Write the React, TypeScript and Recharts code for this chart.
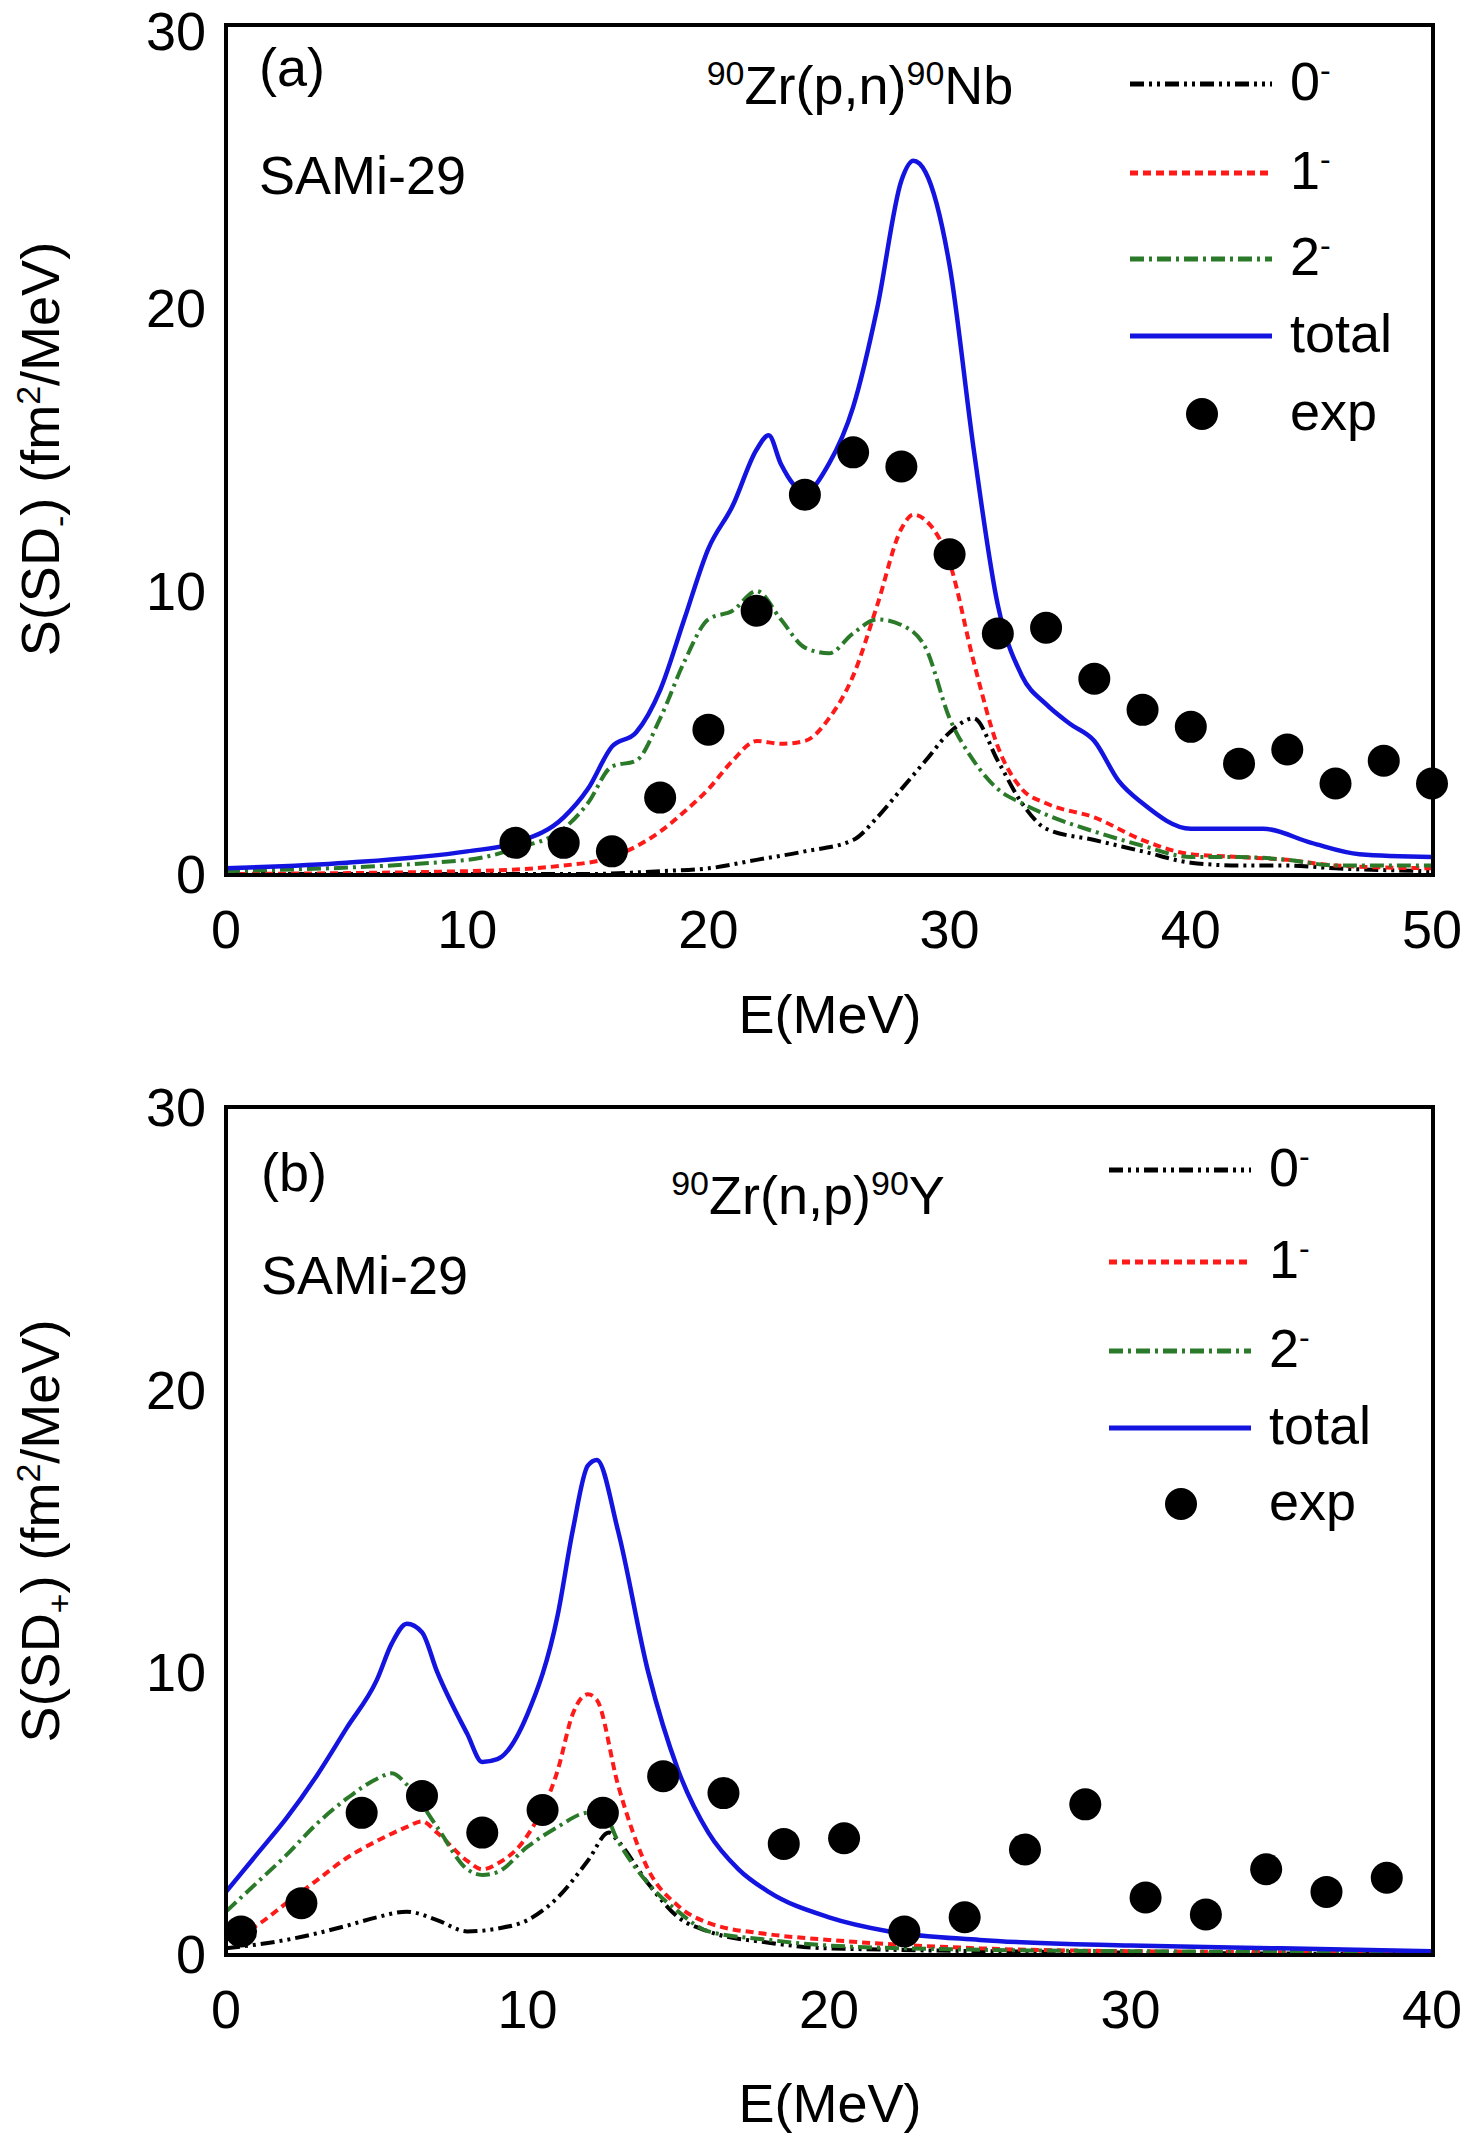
import { ComposedChart, Line, Scatter, XAxis, YAxis } from 'recharts';

// panel (a) 90Zr(p,n)90Nb
const aTotal = [[0,0.2],[5,0.4],[10,0.8],[12,1.1],[14,2],[15,3],[16,4.5],[17,5],[18,6.5],[19,9],[20,11.5],[21,13],[22,15],[22.5,15.5],[23,14.5],[24,13.5],[25,14.5],[26,16.5],[27,20],[28,24.5],[28.5,25.2],[29,24.8],[30,21.5],[31,15],[32,9.5],[33,7],[34,6],[35,5.3],[36,4.7],[37,3.3],[38,2.5],[40,1.6],[42,1.6],[43,1.6],[45,1.1],[47,0.7],[50,0.6]];
const a2m = [[0,0.1],[10,0.5],[12,0.9],[14,1.6],[15,2.5],[16,3.8],[17,4],[18,5.5],[19,7.5],[20,9],[21,9.3],[22,10],[23,9],[24,8],[25,7.8],[26,8.5],[27,9],[28,8.8],[29,8],[30,5.5],[31,4],[32,3],[33,2.5],[34,2.1],[36,1.5],[38,1],[40,0.6],[42,0.6],[44,0.5],[46,0.3],[50,0.3]];
const a1m = [[0,0],[10,0.1],[14,0.3],[16,0.6],[18,1.5],[19,2.2],[20,3],[21,4],[22,4.7],[23,4.6],[24,4.7],[25,5.5],[26,7],[27,9.5],[28,12.2],[28.5,12.7],[29,12.5],[30,11],[31,7.5],[32,4.5],[33,3],[34,2.5],[36,2],[38,1.2],[40,0.7],[42,0.6],[44,0.5],[46,0.3],[50,0.2]];
const a0m = [[0,0],[15,0],[18,0.1],[20,0.2],[22,0.5],[24,0.8],[26,1.2],[27,2],[28,3],[29,4],[30,5],[31,5.5],[32,4],[33,2.5],[34,1.6],[36,1.2],[38,0.8],[40,0.4],[42,0.3],[44,0.3],[46,0.2],[50,0.1]];
const aExp = [[12,1.1],[14,1.1],[16,0.8],[18,2.7],[20,5.1],[22,9.3],[24,13.4],[26,14.9],[28,14.4],[30,11.3],[32,8.5],[34,8.7],[36,6.9],[38,5.8],[40,5.2],[42,3.9],[44,4.4],[46,3.2],[48,4],[50,3.2]];

// panel (b) 90Zr(n,p)90Y
const bTotal = [[0,2.2],[1,3.5],[2,4.8],[3,6.3],[4,8],[5,9.7],[5.5,11],[6,11.7],[6.5,11.4],[7,10],[8,7.8],[8.5,6.8],[9,6.9],[10,8.5],[11,12],[11.5,15],[12,17.3],[12.3,17.5],[13,15],[14,10],[15,6.5],[16,4.3],[17,3],[18,2.2],[20,1.3],[22,0.8],[25,0.5],[30,0.3],[35,0.2],[40,0.1]];
const b2m = [[0,1.5],[1,2.5],[2,3.5],[3,4.6],[4,5.5],[5,6.2],[5.5,6.4],[6,6],[7,4.5],[8,3],[8.5,2.8],[9,2.9],[10,3.8],[11,4.5],[12,5],[12.5,5],[13,4],[14,2.5],[15,1.5],[16,0.8],[18,0.5],[20,0.3],[25,0.15],[30,0.1],[40,0.05]];
const b1m = [[0,0.5],[1,1],[2,1.8],[3,2.6],[4,3.4],[5,4],[6,4.5],[6.5,4.7],[7,4.3],[8,3.3],[8.5,3],[9,3.2],[10,4.2],[11,6.5],[11.5,8.5],[12,9.2],[12.3,9],[13,6],[14,3],[15,1.7],[16,1.1],[18,0.7],[20,0.5],[25,0.2],[30,0.1],[40,0.05]];
const b0m = [[0,0.2],[2,0.5],[4,1],[5,1.3],[6,1.5],[7,1.2],[8,0.8],[9,0.9],[10,1.2],[11,2],[12,3.3],[12.7,4.3],[13,4],[14,2.5],[15,1.3],[16,0.8],[18,0.4],[20,0.2],[30,0.05],[40,0]];
const bExp = [[0.5,0.8],[2.5,1.8],[4.5,5],[6.5,5.6],[8.5,4.3],[10.5,5.1],[12.5,5],[14.5,6.3],[16.5,5.7],[18.5,3.9],[20.5,4.1],[22.5,0.8],[24.5,1.3],[26.5,3.7],[28.5,5.3],[30.5,2],[32.5,1.4],[34.5,3],[36.5,2.2],[38.5,2.7]];

const aTicks = [0, 10, 20, 30, 40, 50];
const bTicks = [0, 10, 20, 30, 40];
const yTicks = [0, 10, 20, 30];

const pts = (arr: number[][]) => arr.map(([x, y]) => ({ x, y }));
const FONT = '"Liberation Sans", Arial, sans-serif';
const COL = { c0: '#000000', c1: '#ff1a1a', c2: '#2a7a2a', tot: '#1414e0' };
const DASH = { c0: '14 5 3 5 3 5', c1: '8 5', c2: '14 5 3 5' };

function Panel({ data, ticks, xMax, height, top, bottom }: any) {
  const tick = { fontSize: 54, fill: '#000', fontFamily: FONT };
  return (
    <ComposedChart width={1463} height={height} margin={{ top, right: 31, left: 0, bottom }}>
      <XAxis type="number" dataKey="x" domain={[0, xMax]} ticks={ticks} tick={tick} tickLine={false} axisLine={false} height={30} tickMargin={30} allowDuplicatedCategory={false} />
      <YAxis type="number" dataKey="y" domain={[0, 30]} ticks={yTicks} tick={tick} tickLine={false} axisLine={false} width={226} tickMargin={14} />
      <Line data={pts(data.c0)} dataKey="y" type="monotone" stroke={COL.c0} strokeWidth={4} strokeDasharray={DASH.c0} dot={false} isAnimationActive={false} />
      <Line data={pts(data.c1)} dataKey="y" type="monotone" stroke={COL.c1} strokeWidth={4} strokeDasharray={DASH.c1} dot={false} isAnimationActive={false} />
      <Line data={pts(data.c2)} dataKey="y" type="monotone" stroke={COL.c2} strokeWidth={4} strokeDasharray={DASH.c2} dot={false} isAnimationActive={false} />
      <Line data={pts(data.tot)} dataKey="y" type="monotone" stroke={COL.tot} strokeWidth={4.5} dot={false} isAnimationActive={false} />
      <Scatter data={pts(data.exp)} dataKey="y" fill="#000" isAnimationActive={false}
        shape={(p: any) => <circle cx={p.cx} cy={p.cy} r={16} fill="#000" />} />
    </ComposedChart>
  );
}

const abs = (l: number, t: number, extra: any = {}): any => ({ position: 'absolute', left: l, top: t, fontFamily: FONT, fontSize: 54, lineHeight: 1, whiteSpace: 'nowrap', ...extra });

function LegendBlock({ x, ys }: { x: number; ys: number[] }) {
  const sup = { fontSize: 32 };
  const rows = [
    { k: 'c0', lab: <>0<sup style={sup}>-</sup></> },
    { k: 'c1', lab: <>1<sup style={sup}>-</sup></> },
    { k: 'c2', lab: <>2<sup style={sup}>-</sup></> },
    { k: 'tot', lab: <>total</> },
    { k: 'exp', lab: <>exp</> },
  ];
  return (
    <>
      {rows.map((r, i) => (
        <div key={r.k}>
          <svg style={{ position: 'absolute', left: x, top: ys[i] - 20 }} width={145} height={40}>
            {r.k === 'exp' ? <circle cx={72} cy={20} r={16} fill="#000" /> :
              <line x1={0} x2={142} y1={20} y2={20} stroke={(COL as any)[r.k]} strokeWidth={5} strokeDasharray={(DASH as any)[r.k]} />}
          </svg>
          <div style={abs(x + 160, ys[i] - 30)}>{r.lab}</div>
        </div>
      ))}
    </>
  );
}

const box = (l: number, t: number, w: number, h: number): any => ({ position: 'absolute', left: l, top: t, width: w, height: h, border: '4px solid #000', boxSizing: 'border-box', pointerEvents: 'none' });
const ylab = (cx: number, cy: number): any => ({ position: 'absolute', left: cx, top: cy, transform: 'translate(-50%,-50%) rotate(-90deg)', fontFamily: FONT, fontSize: 54, whiteSpace: 'nowrap' });
const sp = { fontSize: 34 };

export default function App() {
  return (
    <div style={{ position: 'absolute', left: 0, top: 0, width: 1463, height: 2133, background: '#fff' }}>
      <div style={{ position: 'absolute', left: 0, top: 0 }}>
        <Panel data={{ c0: a0m, c1: a1m, c2: a2m, tot: aTotal, exp: aExp }} ticks={aTicks} xMax={50} height={1070} top={25} bottom={166} />
      </div>
      <div style={{ position: 'absolute', left: 0, top: 1070 }}>
        <Panel data={{ c0: b0m, c1: b1m, c2: b2m, tot: bTotal, exp: bExp }} ticks={bTicks} xMax={40} height={1063} top={37} bottom={149} />
      </div>
      <div style={box(224, 23, 1211, 854)} />
      <div style={box(224, 1105, 1211, 852)} />

      <div style={abs(259, 40)}>(a)</div>
      <div style={abs(259, 148)}>SAMi-29</div>
      <div style={abs(860, 84, { transform: 'translate(-50%,-50%)' })}><sup style={sp}>90</sup>Zr(p,n)<sup style={sp}>90</sup>Nb</div>
      <LegendBlock x={1130} ys={[84, 173, 259, 336, 414]} />

      <div style={abs(261, 1145)}>(b)</div>
      <div style={abs(261, 1248)}>SAMi-29</div>
      <div style={abs(808, 1194, { transform: 'translate(-50%,-50%)' })}><sup style={sp}>90</sup>Zr(n,p)<sup style={sp}>90</sup>Y</div>
      <LegendBlock x={1109} ys={[1170, 1262, 1351, 1428, 1504]} />

      <div style={ylab(44, 449)}>S(SD<sub style={sp}>-</sub>) (fm<sup style={sp}>2</sup>/MeV)</div>
      <div style={ylab(44, 1531)}>S(SD<sub style={sp}>+</sub>) (fm<sup style={sp}>2</sup>/MeV)</div>
      <div style={abs(830, 1014, { transform: 'translate(-50%,-50%)' })}>E(MeV)</div>
      <div style={abs(830, 2103, { transform: 'translate(-50%,-50%)' })}>E(MeV)</div>
    </div>
  );
}
